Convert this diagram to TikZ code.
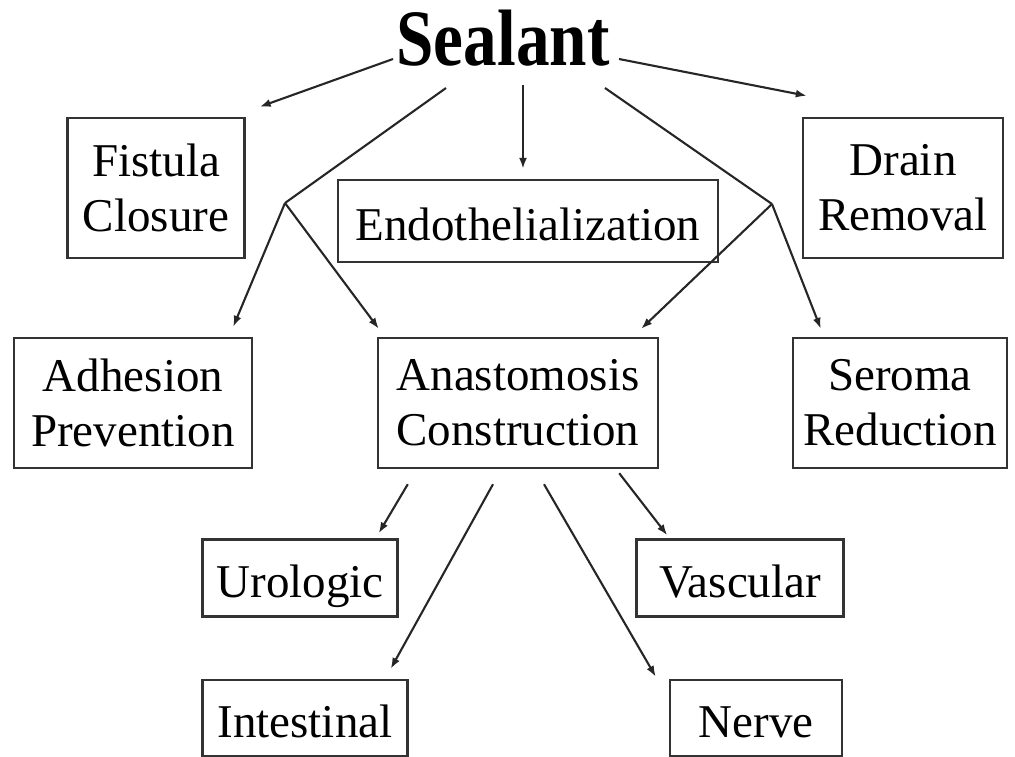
\documentclass[tikz,border=0pt]{standalone}
\usepackage{fontspec}
\setmainfont{Liberation Serif}
\newfontfamily\titlefont[FakeStretch=0.84]{Liberation Serif}
\usetikzlibrary{arrows.meta}
\tikzset{box/.style={rectangle,draw=black!80,line width=2.4pt,align=center,inner sep=0pt,font=\fontsize{47}{55}\selectfont},single/.style={text height=38pt,text depth=0pt},line/.style={-{Latex[length=11pt,width=8pt]},line width=2.1pt,draw=black!85},plain/.style={line width=2.1pt,draw=black!85}}

\begin{document}
\begin{tikzpicture}[x=1pt,y=-1pt]
\useasboundingbox (0,0) rectangle (1015,756);
\node[anchor=base,font=\titlefont\bfseries\fontsize{80}{84}\selectfont] (sealant) at (503,65) {Sealant};
\node[box,minimum width=177pt,minimum height=140pt] (fistula) at (156,188) {Fistula\\Closure};
\node[box,single,minimum width=380pt,minimum height=82pt] (endo) at (528,221) {Endothelialization};
\node[box,minimum width=200pt,minimum height=140pt] (drain) at (903,188) {Drain\\Removal};
\node[box,minimum width=238pt,minimum height=130pt] (adhesion) at (133,403) {Adhesion\\Prevention};
\node[box,minimum width=280pt,minimum height=130pt] (anast) at (518,403) {Anastomosis\\Construction};
\node[box,minimum width=214pt,minimum height=130pt] (seroma) at (900,403) {Seroma\\Reduction};
\node[box,single,minimum width=195pt,minimum height=77pt] (urologic) at (300,578) {Urologic};
\node[box,single,minimum width=207pt,minimum height=77pt] (vascular) at (740,578) {Vascular};
\node[box,single,minimum width=205pt,minimum height=76pt] (intestinal) at (305,718) {Intestinal};
\node[box,single,minimum width=172pt,minimum height=76pt] (nerve) at (756,718) {Nerve};
\coordinate (lsplit) at (285,203);
\coordinate (rsplit) at (772,204);
% from the title
\draw[line] ([shift={(-110,-6)}]sealant.base) -- ([shift={(14,-10)}]fistula.north east);
\draw[line] ([shift={(116,-6)}]sealant.base) -- ([shift={(5,-21)}]drain.north west);
\draw[line] ([shift={(20,20)}]sealant.base) -- ([shift={(-5,-10)}]endo.north);
\draw[plain] ([shift={(-57,23)}]sealant.base) -- (lsplit);
\draw[plain] ([shift={(102,23)}]sealant.base) -- (rsplit);
% split branches
\draw[line] (lsplit) -- ([shift={(-20,-10)}]adhesion.north east);
\draw[line] (lsplit) -- ([shift={(2,-8)}]anast.north west);
\draw[line] (rsplit) -- ([shift={(-18,-8)}]anast.north east);
\draw[line] (rsplit) -- ([shift={(29,-8)}]seroma.north west);
% anastomosis types
\draw[line] ([shift={(31,15)}]anast.south west) -- ([shift={(-20,-5)}]urologic.north east);
\draw[line] ([shift={(-25,15)}]anast.south) -- ([shift={(-18,-10)}]intestinal.north east);
\draw[line] ([shift={(26,15)}]anast.south) -- ([shift={(-13,-2)}]nerve.north west);
\draw[line] ([shift={(-40,4)}]anast.south east) -- ([shift={(32,-3)}]vascular.north west);
\end{tikzpicture}
\end{document}
